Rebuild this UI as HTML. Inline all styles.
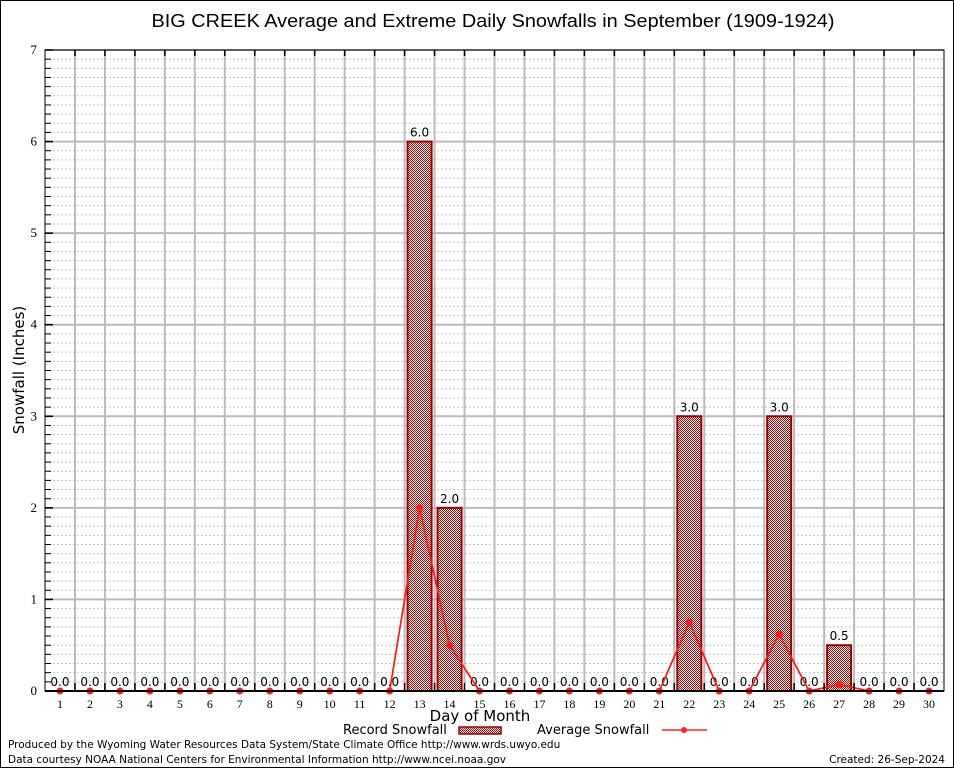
<!DOCTYPE html>
<html><head><meta charset="utf-8"><style>
html,body{margin:0;padding:0;background:#fff}
svg{display:block;font-family:"DejaVu Sans","Liberation Sans",sans-serif}
</style></head><body>
<svg id="chart" width="954" height="768" viewBox="0 0 954 768" xmlns="http://www.w3.org/2000/svg">
<defs>
<pattern id="chk" width="2" height="2" patternUnits="userSpaceOnUse">
<rect width="2" height="2" fill="#fff"/><rect width="1" height="1" fill="#b00000"/><rect x="1" y="1" width="1" height="1" fill="#b00000"/>
</pattern>
</defs>
<rect x="0.5" y="0.5" width="953" height="767" fill="#fff" stroke="#000"/>
<text x="493" y="27" text-anchor="middle" font-family="Liberation Sans, sans-serif" font-size="18" textLength="683" lengthAdjust="spacingAndGlyphs">BIG CREEK Average and Extreme Daily Snowfalls in September (1909-1924)</text>
<g id="grid"></g>
<g id="bars"></g>
<g id="line"></g>
<g id="axes"></g>
<text transform="translate(24,370) rotate(-90)" text-anchor="middle" font-size="15">Snowfall (Inches)</text>
<text x="480" y="721" text-anchor="middle" font-size="15">Day of Month</text>
<g>
<text x="343" y="734" font-size="13">Record Snowfall</text>
<rect x="459" y="727" width="42" height="7" fill="url(#chk)" stroke="#990000" stroke-width="1.5"/>
<text x="537" y="734" font-size="13">Average Snowfall</text>
<line x1="662" y1="730" x2="707" y2="730" stroke="#ff2020" stroke-width="1.5"/>
<circle cx="684" cy="730" r="3" fill="#ff2020"/>
</g>
<text x="8" y="748" font-size="10.5">Produced by the Wyoming Water Resources Data System/State Climate Office http://www.wrds.uwyo.edu</text>
<text x="8" y="763" font-size="10.5">Data courtesy NOAA National Centers for Environmental Information http://www.ncei.noaa.gov</text>
<text x="945" y="763" text-anchor="end" font-size="10.5">Created: 26-Sep-2024</text>
</svg>
<script>
const days = [1,2,3,4,5,6,7,8,9,10,11,12,13,14,15,16,17,18,19,20,21,22,23,24,25,26,27,28,29,30];
const recordSnow = [0,0,0,0,0,0,0,0,0,0,0,0,6.0,2.0,0,0,0,0,0,0,0,3.0,0,0,3.0,0,0.5,0,0,0];
const avgSnow = [0,0,0,0,0,0,0,0,0,0,0,0,2.0,0.5,0,0,0,0,0,0,0,0.75,0,0,0.62,0,0.07,0,0,0];
const yTicks = [0,1,2,3,4,5,6,7];

const NS="http://www.w3.org/2000/svg";
const L=45,R=944,T=50,B=691,YMAX=7;
const bw=(R-L)/days.length;
const x=d=>L+(d-0.5)*bw;
const y=v=>B-(v/YMAX)*(B-T);
function mk(tag,attrs,parent){const e=document.createElementNS(NS,tag);for(const k in attrs)e.setAttribute(k,attrs[k]);parent.appendChild(e);return e;}
const grid=document.getElementById('grid'),bars=document.getElementById('bars'),line=document.getElementById('line'),axes=document.getElementById('axes');

for(let i=0;i<YMAX*10;i++){
  if(i%10===0)continue;
  const g=mk('line',{x1:L,x2:R,y1:y(i/10),y2:y(i/10),stroke:'#c4c4c4','stroke-dasharray':'2,2','stroke-width':1},grid);
  
  
  const t=mk('line',{x1:L,x2:L+6,y1:y(i/10),y2:y(i/10),stroke:'#000','stroke-width':1},axes);
  
  
}
yTicks.forEach(v=>{
  const g=mk('line',{x1:L,x2:R,y1:y(v),y2:y(v),stroke:'#bbb','stroke-width':2},grid);
  
  
  const t=mk('line',{x1:L,x2:L+8,y1:y(v),y2:y(v),stroke:'#000','stroke-width':1.5},axes);
  
  
  const tx=mk('text',{x:L-8,y:y(v)+4,'text-anchor':'end','font-family':'Liberation Serif, serif','font-size':13},axes);
  tx.textContent=v;
  
  
});
for(let i=1;i<days.length;i++){
  const xx=L+i*bw;
  const g=mk('line',{x1:xx,x2:xx,y1:T,y2:B,stroke:'#bbb','stroke-width':2},grid);
  
  
  const t1=mk('line',{x1:xx,x2:xx,y1:T,y2:T+6,stroke:'#000','stroke-width':1.5},axes);
  
  
  const t2=mk('line',{x1:xx,x2:xx,y1:B,y2:B-8,stroke:'#000','stroke-width':1.5},axes);
  
  
}
days.forEach((d,i)=>{
  const v=recordSnow[i];
  if(v>0){
    const r=mk('rect',{x:x(d)-12,y:y(v),width:24,height:B-y(v),fill:'url(#chk)',stroke:'#990000','stroke-width':2},bars);
    
    
  }
  const lb=mk('text',{x:x(d),y:y(v)-5,'text-anchor':'middle','font-size':12},bars);
  lb.textContent=v.toFixed(1);
  
  
  const tl=mk('text',{x:x(d),y:B+17,'text-anchor':'middle','font-family':'Liberation Serif, serif','font-size':12},axes);
  tl.textContent=d;
  
  
});
const pl=mk('polyline',{points:days.map((d,i)=>x(d)+','+y(avgSnow[i])).join(' '),fill:'none',stroke:'#ff1a1a','stroke-width':1.7},line);


days.forEach((d,i)=>{
  const c=mk('circle',{cx:x(d),cy:y(avgSnow[i]),r:3.5,fill:'#ff1a1a'},line);
  
  
});
const fr=mk('rect',{x:L,y:T,width:R-L,height:B-T,fill:'none',stroke:'#000','stroke-width':1},axes);


const bl=mk('line',{x1:L,x2:R,y1:B,y2:B,stroke:'#000','stroke-width':2},axes);


</script>
</body></html>
